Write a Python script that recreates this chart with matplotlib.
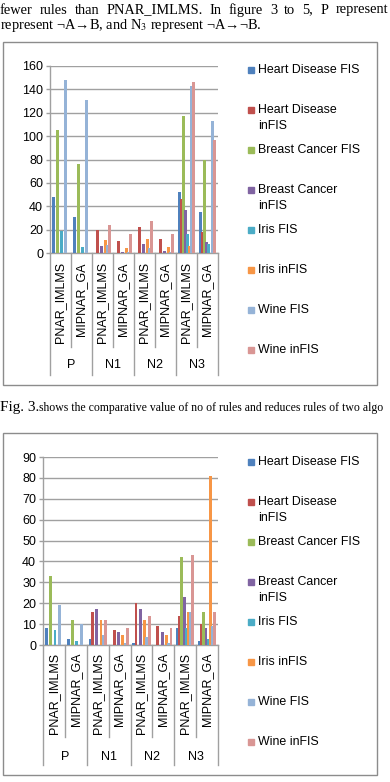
import matplotlib
matplotlib.use("Agg")
import matplotlib.pyplot as plt
import numpy as np
from matplotlib.patches import Rectangle
from matplotlib.lines import Line2D
import matplotlib.transforms as mtrans

plt.rcParams["mathtext.fontset"] = "stix"

# ---------------- data ----------------
series = ["Heart Disease FIS", "Heart Disease\ninFIS", "Breast Cancer FIS",
          "Breast Cancer\ninFIS", "Iris FIS", "Iris inFIS", "Wine FIS", "Wine inFIS"]
colors = ["#4F81BD", "#C0504D", "#9BBB59", "#8064A2", "#4BACC6", "#F79646",
          "#95B3D7", "#D99694"]
algos = ["PNAR_IMLMS", "MIPNAR_GA"]
groups = ["P", "N1", "N2", "N3"]

# chart 1 (no of rules): cols = P/PNAR, P/MIPNAR, N1/PNAR, N1/MIPNAR, ...
hd_fis_1   = [48, 31, 0, 0, 0, 0, 52, 35]
hd_infis_1 = [0, 0, 20, 10, 22, 12, 46, 18]
bc_fis_1   = [105, 76, 0, 0, 0, 0, 117, 80]
bc_infis_1 = [0, 0, 6, 1, 8, 2, 37, 9]
ir_fis_1   = [19, 5, 0, 0, 0, 0, 16, 8]
ir_infis_1 = [0, 0, 11, 4, 12, 5, 6, 0]
wn_fis_1   = [148, 131, 7, 1, 4, 1, 143, 113]
wn_infis_1 = [0, 0, 24, 16, 27, 16, 146, 97]

# chart 2 (reduced rules)
hd_fis_2   = [8, 3, 3, 0, 1, 0, 8, 2]
hd_infis_2 = [0, 0, 16, 7, 20, 9, 14, 10]
bc_fis_2   = [33, 12, 0, 0, 0, 0, 42, 16]
bc_infis_2 = [0, 0, 17, 6, 17, 6, 23, 8]
ir_fis_2   = [7, 2, 0, 0, 0, 0, 8, 3]
ir_infis_2 = [0, 0, 12, 5, 12, 5, 16, 81]
wn_fis_2   = [19, 10, 5, 1, 4, 1, 16, 9]
wn_infis_2 = [0, 0, 12, 8, 14, 8, 43, 16]

data1 = [hd_fis_1, hd_infis_1, bc_fis_1, bc_infis_1, ir_fis_1, ir_infis_1, wn_fis_1, wn_infis_1]
data2 = [hd_fis_2, hd_infis_2, bc_fis_2, bc_infis_2, ir_fis_2, ir_infis_2, wn_fis_2, wn_infis_2]

W, H = 390, 782
fig = plt.figure(figsize=(W / 100, H / 100), dpi=100)
fig.patch.set_facecolor("white")

def fx(x):
    return x / W

def fy(y):
    return 1 - y / H

SANS = "Liberation Sans"
SERIF = "Liberation Serif"
GRID = "#A0A0A0"

# ---------------- page text ----------------
renderer = fig.canvas.get_renderer()
line1 = "fewer rules than PNAR_IMLMS. In figure 3 to 5, P represent".split(" ")
word_objs = [fig.text(0, fy(10), w, family=SERIF, fontsize=10.4, va="center", ha="left")
             for w in line1]
widths = [t.get_window_extent(renderer).width for t in word_objs]
right_edge = 388.0
gap = (right_edge - sum(widths)) / (len(line1) - 1)
xpos = 0.0
for t, wdt in zip(word_objs, widths):
    t.set_x(fx(xpos))
    xpos += wdt + gap

fig.text(fx(0), fy(26), r"represent ¬A→B, and N$_3$ represent ¬A→¬B.",
         family=SERIF, fontsize=10.4, va="center", ha="left")
fig.text(fx(0), fy(407), "Fig. 3.", family=SERIF, fontsize=11, va="center", ha="left")
fig.text(fx(39), fy(408), "shows the comparative value of no of rules and reduces rules of two algo",
         family=SERIF, fontsize=8.5, va="center", ha="left")

# chart boxes
for (y0, y1) in [(42, 385), (433, 775)]:
    fig.patches.append(Rectangle((fx(3), fy(y1)), fx(377) - fx(3), fy(y0) - fy(y1),
                                 transform=fig.transFigure, fill=False,
                                 edgecolor="#8C8C8C", lw=1.0))


def draw_chart(rect, data, ymax, ystep, short_px, long_px, lab_top_px, grp_px, leg_y):
    ax = fig.add_axes(rect)
    n_cat = len(algos) * len(groups)
    x = np.arange(n_cat)
    for i, vals in enumerate(data):
        ax.bar(x + (i - 3.5) * 0.1, vals, width=0.13, color=colors[i], zorder=3, linewidth=0)
    ax.set_xlim(-0.5, n_cat - 0.5)
    ax.set_ylim(0, ymax)
    ax.set_yticks(np.arange(0, ymax + 1, ystep))
    ax.yaxis.grid(True, color=GRID, lw=1.0, zorder=0)
    ax.set_axisbelow(True)
    for s in ["top", "right"]:
        ax.spines[s].set_visible(False)
    for s in ["left", "bottom"]:
        ax.spines[s].set_color(GRID)
        ax.spines[s].set_linewidth(1.0)
    ax.tick_params(axis="y", colors=GRID, length=3, width=1.0, labelsize=9,
                   labelcolor="black", pad=2)
    for lab in ax.get_yticklabels():
        lab.set_family(SANS)
    ax.set_xticks([])
    ax_h_px = rect[3] * H
    trans = mtrans.blended_transform_factory(ax.transData, ax.transAxes)
    for k in range(n_cat + 1):
        xp = k - 0.5
        depth = long_px if k % 2 == 0 else short_px
        ax.add_line(Line2D([xp, xp], [0, -depth / ax_h_px], transform=trans,
                           color=GRID, lw=1.0, clip_on=False))
    for k in range(n_cat):
        ax.text(k, -lab_top_px / ax_h_px, algos[k % 2], transform=trans, rotation=90,
                ha="center", va="top", family=SANS, fontsize=9)
    for g, name in enumerate(groups):
        ax.text(2 * g + 0.5, -grp_px / ax_h_px, name, transform=trans,
                ha="center", va="center", family=SANS, fontsize=9)
    for i, name in enumerate(series):
        yy = leg_y + i * 40
        fig.patches.append(Rectangle((fx(248), fy(yy + 3)), fx(6), 6 / H,
                                     transform=fig.transFigure, color=colors[i]))
        fig.text(fx(258), fy(yy - 6), name, family=SANS, fontsize=8.9, va="top",
                 ha="left", linespacing=1.45)
    return ax


draw_chart([fx(50), fy(253), fx(218) - fx(50), fy(66) - fy(253)], data1, 160, 20,
           94, 122, 9, 112, 70)
draw_chart([fx(43), fy(645), fx(218) - fx(43), fy(457) - fy(645)], data2, 90, 10,
           92, 120, 8, 112, 462)

fig.savefig("out.png", dpi=100, facecolor="white")
